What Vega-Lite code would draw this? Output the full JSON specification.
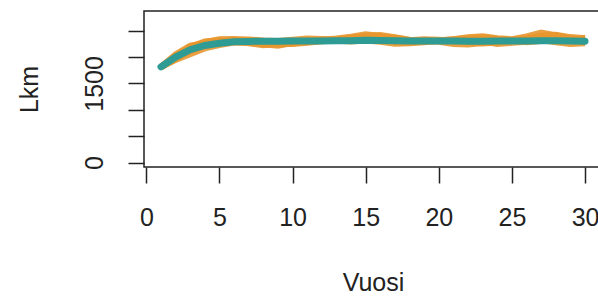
{
  "$schema": "https://vega.github.io/schema/vega-lite/v6.json",
  "width": 458,
  "height": 156,
  "autosize": {"type": "none"},
  "padding": {"left": 144, "top": 11, "right": 0, "bottom": 130},
  "background": "white",
  "config": {
    "view": {"stroke": "#222", "strokeWidth": 1.5},
    "font": "Liberation Sans",
    "axis": {"grid": false, "domain": false, "tickColor": "#222", "tickWidth": 1.5, "tickSize": 16, "labelFontSize": 25, "titleFontSize": 25, "labelColor": "#222", "titleColor": "#222", "labelFont": "Liberation Sans", "titleFont": "Liberation Sans", "titleFontWeight": "normal"}
  },
  "data": {"values": [
    {"vuosi": 1, "lkm": 1816, "sarja": "s1"}, {"vuosi": 2, "lkm": 2030, "sarja": "s1"}, {"vuosi": 3, "lkm": 2200, "sarja": "s1"}, {"vuosi": 4, "lkm": 2300, "sarja": "s1"}, {"vuosi": 5, "lkm": 2322, "sarja": "s1"}, {"vuosi": 6, "lkm": 2330, "sarja": "s1"}, {"vuosi": 7, "lkm": 2298, "sarja": "s1"}, {"vuosi": 8, "lkm": 2240, "sarja": "s1"}, {"vuosi": 9, "lkm": 2212, "sarja": "s1"}, {"vuosi": 10, "lkm": 2263, "sarja": "s1"}, {"vuosi": 11, "lkm": 2315, "sarja": "s1"}, {"vuosi": 12, "lkm": 2336, "sarja": "s1"}, {"vuosi": 13, "lkm": 2358, "sarja": "s1"}, {"vuosi": 14, "lkm": 2390, "sarja": "s1"}, {"vuosi": 15, "lkm": 2438, "sarja": "s1"}, {"vuosi": 16, "lkm": 2405, "sarja": "s1"}, {"vuosi": 17, "lkm": 2350, "sarja": "s1"}, {"vuosi": 18, "lkm": 2306, "sarja": "s1"}, {"vuosi": 19, "lkm": 2285, "sarja": "s1"}, {"vuosi": 20, "lkm": 2314, "sarja": "s1"}, {"vuosi": 21, "lkm": 2343, "sarja": "s1"}, {"vuosi": 22, "lkm": 2382, "sarja": "s1"}, {"vuosi": 23, "lkm": 2402, "sarja": "s1"}, {"vuosi": 24, "lkm": 2363, "sarja": "s1"}, {"vuosi": 25, "lkm": 2345, "sarja": "s1"}, {"vuosi": 26, "lkm": 2397, "sarja": "s1"}, {"vuosi": 27, "lkm": 2470, "sarja": "s1"}, {"vuosi": 28, "lkm": 2418, "sarja": "s1"}, {"vuosi": 29, "lkm": 2364, "sarja": "s1"}, {"vuosi": 30, "lkm": 2340, "sarja": "s1"},
    {"vuosi": 1, "lkm": 1796, "sarja": "s2"}, {"vuosi": 2, "lkm": 1960, "sarja": "s2"}, {"vuosi": 3, "lkm": 2110, "sarja": "s2"}, {"vuosi": 4, "lkm": 2210, "sarja": "s2"}, {"vuosi": 5, "lkm": 2282, "sarja": "s2"}, {"vuosi": 6, "lkm": 2290, "sarja": "s2"}, {"vuosi": 7, "lkm": 2258, "sarja": "s2"}, {"vuosi": 8, "lkm": 2220, "sarja": "s2"}, {"vuosi": 9, "lkm": 2252, "sarja": "s2"}, {"vuosi": 10, "lkm": 2283, "sarja": "s2"}, {"vuosi": 11, "lkm": 2275, "sarja": "s2"}, {"vuosi": 12, "lkm": 2306, "sarja": "s2"}, {"vuosi": 13, "lkm": 2328, "sarja": "s2"}, {"vuosi": 14, "lkm": 2350, "sarja": "s2"}, {"vuosi": 15, "lkm": 2378, "sarja": "s2"}, {"vuosi": 16, "lkm": 2335, "sarja": "s2"}, {"vuosi": 17, "lkm": 2280, "sarja": "s2"}, {"vuosi": 18, "lkm": 2266, "sarja": "s2"}, {"vuosi": 19, "lkm": 2295, "sarja": "s2"}, {"vuosi": 20, "lkm": 2284, "sarja": "s2"}, {"vuosi": 21, "lkm": 2243, "sarja": "s2"}, {"vuosi": 22, "lkm": 2232, "sarja": "s2"}, {"vuosi": 23, "lkm": 2262, "sarja": "s2"}, {"vuosi": 24, "lkm": 2283, "sarja": "s2"}, {"vuosi": 25, "lkm": 2305, "sarja": "s2"}, {"vuosi": 26, "lkm": 2277, "sarja": "s2"}, {"vuosi": 27, "lkm": 2300, "sarja": "s2"}, {"vuosi": 28, "lkm": 2328, "sarja": "s2"}, {"vuosi": 29, "lkm": 2304, "sarja": "s2"}, {"vuosi": 30, "lkm": 2280, "sarja": "s2"},
    {"vuosi": 1, "lkm": 1826, "sarja": "s3"}, {"vuosi": 2, "lkm": 2060, "sarja": "s3"}, {"vuosi": 3, "lkm": 2220, "sarja": "s3"}, {"vuosi": 4, "lkm": 2270, "sarja": "s3"}, {"vuosi": 5, "lkm": 2302, "sarja": "s3"}, {"vuosi": 6, "lkm": 2310, "sarja": "s3"}, {"vuosi": 7, "lkm": 2328, "sarja": "s3"}, {"vuosi": 8, "lkm": 2310, "sarja": "s3"}, {"vuosi": 9, "lkm": 2272, "sarja": "s3"}, {"vuosi": 10, "lkm": 2243, "sarja": "s3"}, {"vuosi": 11, "lkm": 2265, "sarja": "s3"}, {"vuosi": 12, "lkm": 2296, "sarja": "s3"}, {"vuosi": 13, "lkm": 2318, "sarja": "s3"}, {"vuosi": 14, "lkm": 2310, "sarja": "s3"}, {"vuosi": 15, "lkm": 2348, "sarja": "s3"}, {"vuosi": 16, "lkm": 2385, "sarja": "s3"}, {"vuosi": 17, "lkm": 2370, "sarja": "s3"}, {"vuosi": 18, "lkm": 2326, "sarja": "s3"}, {"vuosi": 19, "lkm": 2345, "sarja": "s3"}, {"vuosi": 20, "lkm": 2334, "sarja": "s3"}, {"vuosi": 21, "lkm": 2313, "sarja": "s3"}, {"vuosi": 22, "lkm": 2282, "sarja": "s3"}, {"vuosi": 23, "lkm": 2252, "sarja": "s3"}, {"vuosi": 24, "lkm": 2273, "sarja": "s3"}, {"vuosi": 25, "lkm": 2325, "sarja": "s3"}, {"vuosi": 26, "lkm": 2357, "sarja": "s3"}, {"vuosi": 27, "lkm": 2390, "sarja": "s3"}, {"vuosi": 28, "lkm": 2368, "sarja": "s3"}, {"vuosi": 29, "lkm": 2334, "sarja": "s3"}, {"vuosi": 30, "lkm": 2370, "sarja": "s3"},
    {"vuosi": 1, "lkm": 1806, "sarja": "s4"}, {"vuosi": 2, "lkm": 1940, "sarja": "s4"}, {"vuosi": 3, "lkm": 2050, "sarja": "s4"}, {"vuosi": 4, "lkm": 2160, "sarja": "s4"}, {"vuosi": 5, "lkm": 2222, "sarja": "s4"}, {"vuosi": 6, "lkm": 2270, "sarja": "s4"}, {"vuosi": 7, "lkm": 2268, "sarja": "s4"}, {"vuosi": 8, "lkm": 2240, "sarja": "s4"}, {"vuosi": 9, "lkm": 2232, "sarja": "s4"}, {"vuosi": 10, "lkm": 2253, "sarja": "s4"}, {"vuosi": 11, "lkm": 2295, "sarja": "s4"}, {"vuosi": 12, "lkm": 2326, "sarja": "s4"}, {"vuosi": 13, "lkm": 2308, "sarja": "s4"}, {"vuosi": 14, "lkm": 2290, "sarja": "s4"}, {"vuosi": 15, "lkm": 2308, "sarja": "s4"}, {"vuosi": 16, "lkm": 2285, "sarja": "s4"}, {"vuosi": 17, "lkm": 2250, "sarja": "s4"}, {"vuosi": 18, "lkm": 2256, "sarja": "s4"}, {"vuosi": 19, "lkm": 2275, "sarja": "s4"}, {"vuosi": 20, "lkm": 2304, "sarja": "s4"}, {"vuosi": 21, "lkm": 2323, "sarja": "s4"}, {"vuosi": 22, "lkm": 2332, "sarja": "s4"}, {"vuosi": 23, "lkm": 2292, "sarja": "s4"}, {"vuosi": 24, "lkm": 2243, "sarja": "s4"}, {"vuosi": 25, "lkm": 2265, "sarja": "s4"}, {"vuosi": 26, "lkm": 2287, "sarja": "s4"}, {"vuosi": 27, "lkm": 2320, "sarja": "s4"}, {"vuosi": 28, "lkm": 2278, "sarja": "s4"}, {"vuosi": 29, "lkm": 2244, "sarja": "s4"}, {"vuosi": 30, "lkm": 2260, "sarja": "s4"},
    {"vuosi": 1, "lkm": 1821, "sarja": "s5"}, {"vuosi": 2, "lkm": 2020, "sarja": "s5"}, {"vuosi": 3, "lkm": 2180, "sarja": "s5"}, {"vuosi": 4, "lkm": 2290, "sarja": "s5"}, {"vuosi": 5, "lkm": 2342, "sarja": "s5"}, {"vuosi": 6, "lkm": 2350, "sarja": "s5"}, {"vuosi": 7, "lkm": 2338, "sarja": "s5"}, {"vuosi": 8, "lkm": 2320, "sarja": "s5"}, {"vuosi": 9, "lkm": 2312, "sarja": "s5"}, {"vuosi": 10, "lkm": 2333, "sarja": "s5"}, {"vuosi": 11, "lkm": 2355, "sarja": "s5"}, {"vuosi": 12, "lkm": 2346, "sarja": "s5"}, {"vuosi": 13, "lkm": 2338, "sarja": "s5"}, {"vuosi": 14, "lkm": 2370, "sarja": "s5"}, {"vuosi": 15, "lkm": 2408, "sarja": "s5"}, {"vuosi": 16, "lkm": 2425, "sarja": "s5"}, {"vuosi": 17, "lkm": 2380, "sarja": "s5"}, {"vuosi": 18, "lkm": 2336, "sarja": "s5"}, {"vuosi": 19, "lkm": 2315, "sarja": "s5"}, {"vuosi": 20, "lkm": 2324, "sarja": "s5"}, {"vuosi": 21, "lkm": 2343, "sarja": "s5"}, {"vuosi": 22, "lkm": 2362, "sarja": "s5"}, {"vuosi": 23, "lkm": 2382, "sarja": "s5"}, {"vuosi": 24, "lkm": 2353, "sarja": "s5"}, {"vuosi": 25, "lkm": 2335, "sarja": "s5"}, {"vuosi": 26, "lkm": 2347, "sarja": "s5"}, {"vuosi": 27, "lkm": 2410, "sarja": "s5"}, {"vuosi": 28, "lkm": 2428, "sarja": "s5"}, {"vuosi": 29, "lkm": 2384, "sarja": "s5"}, {"vuosi": 30, "lkm": 2360, "sarja": "s5"},
    {"vuosi": 1, "lkm": 1816, "sarja": "keski"}, {"vuosi": 2, "lkm": 2000, "sarja": "keski"}, {"vuosi": 3, "lkm": 2140, "sarja": "keski"}, {"vuosi": 4, "lkm": 2220, "sarja": "keski"}, {"vuosi": 5, "lkm": 2262, "sarja": "keski"}, {"vuosi": 6, "lkm": 2290, "sarja": "keski"}, {"vuosi": 7, "lkm": 2298, "sarja": "keski"}, {"vuosi": 8, "lkm": 2300, "sarja": "keski"}, {"vuosi": 9, "lkm": 2302, "sarja": "keski"}, {"vuosi": 10, "lkm": 2303, "sarja": "keski"}, {"vuosi": 11, "lkm": 2305, "sarja": "keski"}, {"vuosi": 12, "lkm": 2306, "sarja": "keski"}, {"vuosi": 13, "lkm": 2308, "sarja": "keski"}, {"vuosi": 14, "lkm": 2310, "sarja": "keski"}, {"vuosi": 15, "lkm": 2318, "sarja": "keski"}, {"vuosi": 16, "lkm": 2315, "sarja": "keski"}, {"vuosi": 17, "lkm": 2310, "sarja": "keski"}, {"vuosi": 18, "lkm": 2306, "sarja": "keski"}, {"vuosi": 19, "lkm": 2305, "sarja": "keski"}, {"vuosi": 20, "lkm": 2304, "sarja": "keski"}, {"vuosi": 21, "lkm": 2303, "sarja": "keski"}, {"vuosi": 22, "lkm": 2302, "sarja": "keski"}, {"vuosi": 23, "lkm": 2302, "sarja": "keski"}, {"vuosi": 24, "lkm": 2303, "sarja": "keski"}, {"vuosi": 25, "lkm": 2305, "sarja": "keski"}, {"vuosi": 26, "lkm": 2307, "sarja": "keski"}, {"vuosi": 27, "lkm": 2310, "sarja": "keski"}, {"vuosi": 28, "lkm": 2308, "sarja": "keski"}, {"vuosi": 29, "lkm": 2304, "sarja": "keski"}, {"vuosi": 30, "lkm": 2300, "sarja": "keski"}
  ]},
  "encoding": {
    "x": {"field": "vuosi", "type": "quantitative", "scale": {"domain": [-0.16, 31.16], "nice": false, "zero": false},
      "axis": {"title": "Vuosi", "values": [0, 5, 10, 15, 20, 25, 30], "labelPadding": 22, "titlePadding": 40, "labelFlush": false, "labelOverlap": false}},
    "y": {"field": "lkm", "type": "quantitative", "scale": {"domain": [-84, 2874], "nice": false, "zero": false},
      "axis": {"title": "Lkm", "values": [0, 500, 1000, 1500, 2000, 2500], "labelExpr": "datum.value == 0 || datum.value == 1500 ? datum.label : ''", "labelAngle": -90, "labelPadding": 21, "titlePadding": 40, "labelFlush": false, "labelOverlap": false, "format": "d"}}
  },
  "layer": [
    {"transform": [{"filter": "datum.sarja != 'keski'"}], "mark": {"type": "line", "color": "#E8962E", "strokeWidth": 5.5, "opacity": 0.9}, "encoding": {"detail": {"field": "sarja"}}},
    {"transform": [{"filter": "datum.sarja == 'keski'"}], "mark": {"type": "line", "color": "#2E9C94", "strokeWidth": 7, "strokeCap": "round"}}
  ]
}
